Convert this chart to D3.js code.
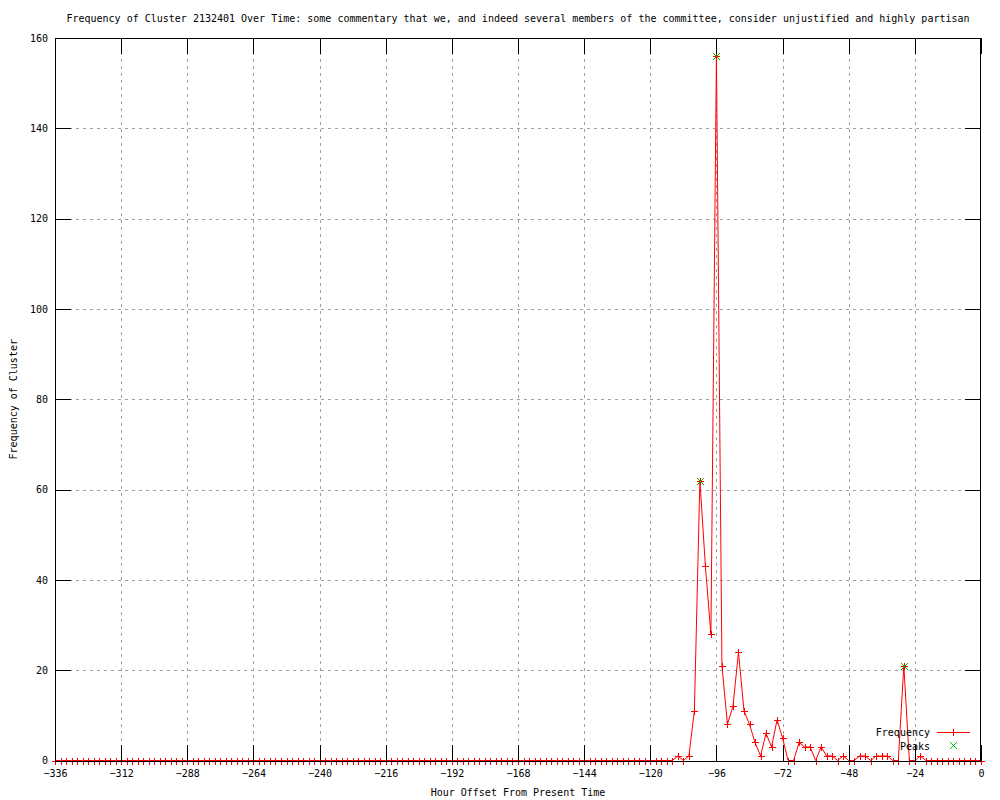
<!DOCTYPE html>
<html>
<head>
<meta charset="utf-8">
<script src="https://cdn.jsdelivr.net/npm/d3@7"></script>
<style>
  body { margin: 0; background: #fff; }
  text { font-family: "DejaVu Sans Mono", monospace; font-size: 10px; fill: #000; }
</style>
</head>
<body>
<script>
// hours before now, one sample every 2 hours
var hours = d3.range(-336, 1, 2)
var freq = [
  0,0,0,0,0,0,0,0,0,0,0,0,0,0,0,0,0,0,0,0,0,0,0,0,
  0,0,0,0,0,0,0,0,0,0,0,0,0,0,0,0,0,0,0,0,0,0,0,0,
  0,0,0,0,0,0,0,0,0,0,0,0,0,0,0,0,0,0,0,0,0,0,0,0,
  0,0,0,0,0,0,0,0,0,0,0,0,0,0,0,0,0,0,0,0,0,0,0,0,
  0,0,0,0,0,0,0,0,0,0,0,0,0,0,0,0,
  0,1,0,1,11,62,43,28,156,21,8,12,24,11,8,4,1,6,3,9,5,0,0,4,
  3,3,0,3,1,1,0,1,0,0,1,1,0,1,1,1,0,0,21,0,0,1,
  0,0,0,0,0,0,0,0,0,0,0
]
var peakHours = [-102, -96, -28]
var peakVals = [62, 156, 21]
var xTicks = d3.range(-336, 1, 24)
var yTicks = [0, 20, 40, 60, 80, 100, 120, 140, 160]

var title = "Frequency of Cluster 2132401 Over Time: some commentary that we, and indeed several members of the committee, consider unjustified and highly partisan"

var data = hours.map(function(h, i){ return {x: h, y: freq[i]} })
var peaks = peakHours.map(function(h, i){ return {x: h, y: peakVals[i]} })

var W = 1000, H = 800
var m = {l: 55, r: 19, t: 38, b: 39.5}

var svg = d3.select("body").append("svg")
  .attr("width", W).attr("height", H)

var xScale = d3.scaleLinear().domain([-336, 0]).range([m.l, W - m.r])
var yScale = d3.scaleLinear().domain([0, 160]).range([H - m.b, m.t])

// grid
var grid = svg.append("g")
  .attr("stroke", "#a0a0a0").attr("stroke-dasharray", "3,4")
  .attr("shape-rendering", "crispEdges")
grid.selectAll(".gx").data(xTicks.slice(1, -1)).enter().append("line")
  .attr("x1", function(d){ return Math.round(xScale(d)) + 0.5 })
  .attr("x2", function(d){ return Math.round(xScale(d)) + 0.5 })
  .attr("y1", m.t).attr("y2", H - m.b)
grid.selectAll(".gy").data(yTicks.slice(1, -1)).enter().append("line")
  .attr("y1", function(d){ return Math.round(yScale(d)) + 0.5 })
  .attr("y2", function(d){ return Math.round(yScale(d)) + 0.5 })
  .attr("x1", m.l).attr("x2", W - m.r)

// axes with inward ticks, mirrored on top and right
var tl = 16
var xAxis = d3.axisBottom(xScale).tickValues(xTicks).tickSizeInner(-tl).tickSizeOuter(0).tickPadding(9)
var yAxis = d3.axisLeft(yScale).tickValues(yTicks).tickSizeInner(-tl).tickSizeOuter(0).tickPadding(7)
var xTop = d3.axisTop(xScale).tickValues(xTicks).tickSizeInner(-tl).tickSizeOuter(0).tickFormat("")
var yRight = d3.axisRight(yScale).tickValues(yTicks).tickSizeInner(-tl).tickSizeOuter(0).tickFormat("")

function styleAxis(g){
  g.select(".domain").remove()
  g.selectAll("line").attr("stroke", "#000").attr("shape-rendering", "crispEdges")
  g.selectAll("text").attr("font-family", "DejaVu Sans Mono").attr("font-size", 10)
}

// series line and markers
var line = d3.line().x(function(d){ return xScale(d.x) }).y(function(d){ return yScale(d.y) })
svg.append("path").datum(data)
  .attr("d", line).attr("fill", "none").attr("stroke", "#ff0000").attr("stroke-width", 1)

var plus = "M-3.5,0H3.5M0,-3.5V3.5"
var cross = "M-3.5,-3.5L3.5,3.5M-3.5,3.5L3.5,-3.5"

svg.append("g").selectAll("path").data(data).enter().append("path")
  .attr("d", plus).attr("stroke", "#ff0000").attr("fill", "none")
  .attr("transform", function(d){ return "translate(" + (Math.round(xScale(d.x)) + 0.5) + "," + (Math.round(yScale(d.y)) + 0.5) + ")" })

svg.append("g").selectAll("path").data(peaks).enter().append("path")
  .attr("d", cross).attr("stroke", "#00c000").attr("fill", "none")
  .attr("transform", function(d){ return "translate(" + (Math.round(xScale(d.x)) + 0.5) + "," + (Math.round(yScale(d.y)) + 0.5) + ")" })

svg.append("g").attr("transform", "translate(0," + (H - m.b) + ")").call(xAxis).call(styleAxis)
svg.append("g").attr("transform", "translate(" + m.l + ",0)").call(yAxis).call(styleAxis)
svg.append("g").attr("transform", "translate(0," + m.t + ")").call(xTop).call(styleAxis)
svg.append("g").attr("transform", "translate(" + (W - m.r) + ",0)").call(yRight).call(styleAxis)

// border
svg.append("rect")
  .attr("x", m.l + 0.5).attr("y", m.t + 0.5)
  .attr("width", W - m.l - m.r - 1).attr("height", H - m.t - m.b)
  .attr("fill", "none").attr("stroke", "#000").attr("shape-rendering", "crispEdges")

// titles
svg.append("text").text(title)
  .attr("x", (m.l + W - m.r) / 2).attr("y", 22).attr("text-anchor", "middle")
svg.append("text").text("Hour Offset From Present Time")
  .attr("x", (m.l + W - m.r) / 2).attr("y", 796).attr("text-anchor", "middle")
svg.append("text").text("Frequency of Cluster")
  .attr("transform", "translate(17," + ((m.t + H - m.b) / 2) + ") rotate(-90)")
  .attr("text-anchor", "middle")

// legend
var leg = svg.append("g")
leg.append("text").text("Frequency").attr("x", 930).attr("y", 736).attr("text-anchor", "end")
leg.append("line").attr("x1", 937).attr("x2", 970).attr("y1", 732.5).attr("y2", 732.5)
  .attr("stroke", "#ff0000")
leg.append("path").attr("d", plus).attr("stroke", "#ff0000").attr("transform", "translate(953.5,732.5)")
leg.append("text").text("Peaks").attr("x", 930).attr("y", 749.5).attr("text-anchor", "end")
leg.append("path").attr("d", cross).attr("stroke", "#00c000").attr("transform", "translate(953.5,745.5)")
</script>
</body>
</html>
